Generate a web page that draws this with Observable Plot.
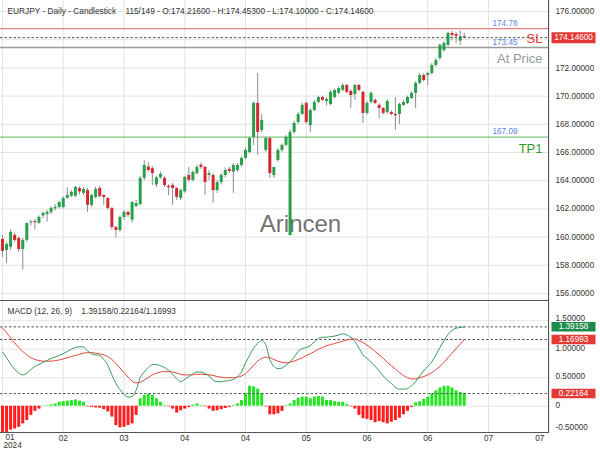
<!DOCTYPE html>
<html><head><meta charset="utf-8">
<script src="https://cdn.jsdelivr.net/npm/d3@7"></script>
<script src="https://cdn.jsdelivr.net/npm/@observablehq/plot@0.6"></script>
<style>
body{margin:0;background:#fff;}
#chart{width:600px;height:450px;position:relative;overflow:hidden;background:#fff;}
#chart svg{display:block;}
</style></head><body><div id="chart"></div>
<script>
// ---------- DATA ----------
const opens = [159.83,159.05,159.27,160.12,159.90,159.12,159.76,161.00,161.10,160.98,
161.50,161.60,161.75,162.00,162.10,162.10,162.75,162.90,162.90,163.45,
163.10,163.30,162.25,162.80,163.45,162.95,162.74,162.03,160.68,160.47,
161.39,161.75,161.20,162.17,162.30,164.16,164.96,164.85,163.70,164.20,
164.16,163.60,163.66,163.45,162.74,163.20,164.37,164.02,164.50,165.10,
164.94,164.37,164.37,163.30,163.87,164.37,164.80,164.60,164.72,165.08,
165.58,166.00,167.07,169.48,167.56,166.14,166.99,164.37,165.43,166.14,
166.50,160.10,167.42,168.13,168.70,169.48,167.90,168.98,169.55,169.90,
169.62,169.40,169.90,170.20,170.40,170.75,170.33,170.11,170.75,170.26,
168.77,169.55,169.70,169.34,169.12,168.84,168.84,168.70,168.70,169.34,
169.48,169.83,170.19,170.90,171.46,171.46,171.60,172.17,172.67,173.23,
173.60,174.44,174.37,173.90,174.216];
const highs = [160.10,159.62,160.50,160.30,160.00,159.90,161.00,161.20,161.25,161.50,
161.80,161.90,162.15,162.30,162.55,162.85,163.50,163.30,163.60,163.55,
163.50,163.45,163.05,163.55,163.60,163.00,162.80,162.10,160.75,161.50,
161.90,161.85,162.50,162.60,164.30,165.43,165.30,165.00,164.30,164.60,
164.30,163.70,163.80,163.50,163.40,164.30,164.94,164.70,165.10,165.25,
165.00,164.70,164.50,164.00,164.50,164.90,164.95,165.20,165.20,165.70,
166.30,167.10,169.60,171.60,168.70,167.10,167.10,164.90,166.30,166.60,
167.20,167.60,168.20,168.85,169.50,169.60,169.10,169.70,170.00,170.00,
169.90,170.40,170.50,170.65,170.90,170.85,170.45,170.85,170.85,170.35,
169.60,170.30,169.80,169.45,169.20,169.75,168.95,169.90,169.50,169.70,
170.00,170.30,171.00,171.60,171.60,171.70,172.30,172.65,173.70,173.85,
174.55,174.60,174.50,174.65,174.453];
const lows = [158.55,158.10,159.05,159.60,158.90,157.65,159.60,160.80,160.50,160.90,
161.30,161.05,161.60,161.85,162.00,162.00,162.70,162.80,162.80,163.00,
162.95,161.75,162.10,162.70,162.75,162.25,161.90,160.50,159.95,160.30,
161.20,161.40,161.00,162.10,162.20,164.00,164.60,163.66,163.50,164.10,
163.50,162.95,162.25,162.60,162.60,163.10,163.90,163.90,164.40,164.80,
162.95,164.00,162.40,163.10,163.70,164.20,164.50,163.10,164.60,164.95,
165.50,165.90,166.50,165.80,167.40,166.00,164.16,164.16,165.30,166.00,
166.40,160.10,167.30,168.00,168.60,168.00,167.40,168.90,169.45,169.60,
169.30,169.30,169.80,170.10,170.30,170.20,169.12,169.70,170.30,168.06,
168.65,169.45,169.40,168.40,168.65,168.70,168.60,167.56,168.00,169.25,
169.40,169.75,169.10,170.80,171.00,170.75,171.50,172.05,172.50,173.10,
173.50,173.90,173.70,173.60,174.10];
const closes = [158.98,159.48,160.33,159.76,159.12,159.76,160.96,161.07,161.02,161.40,
161.67,161.75,162.03,162.10,162.45,162.74,162.95,163.17,163.52,163.20,
163.38,162.25,162.95,163.38,162.88,162.80,162.03,160.68,160.47,161.39,
161.75,161.53,162.45,162.38,164.16,165.08,164.72,164.50,164.20,164.44,
163.66,163.50,163.45,162.81,163.30,164.23,164.02,164.58,164.94,164.94,
163.87,164.50,163.30,163.87,164.37,164.72,164.65,165.08,165.08,165.58,
166.14,166.99,169.48,167.42,168.27,166.99,164.50,164.94,166.14,166.50,
167.07,167.42,168.06,168.70,169.34,168.13,168.98,169.55,169.90,169.70,
169.76,170.26,170.40,170.54,170.75,170.26,170.04,170.75,170.40,168.77,
169.48,170.19,169.48,169.12,168.77,169.62,168.70,168.60,169.41,169.55,
169.90,170.19,170.90,171.46,171.10,171.60,172.17,172.53,173.60,173.73,
174.44,174.30,174.23,174.20,174.146];

const macdLine = [0.95,0.85,0.74,0.65,0.58,0.55,0.58,0.64,0.70,0.73,
0.77,0.80,0.84,0.86,0.89,0.92,0.96,1.00,1.03,1.04,
1.04,0.97,0.92,0.90,0.89,0.82,0.72,0.55,0.40,0.29,
0.21,0.16,0.17,0.28,0.50,0.60,0.68,0.73,0.73,0.71,
0.68,0.63,0.56,0.48,0.43,0.47,0.52,0.57,0.60,0.60,
0.57,0.53,0.46,0.43,0.43,0.44,0.45,0.47,0.52,0.60,
0.76,0.89,1.02,1.10,1.15,1.08,0.82,0.70,0.66,0.67,
0.72,0.78,0.86,0.96,1.01,1.03,1.06,1.13,1.19,1.21,
1.21,1.22,1.23,1.25,1.27,1.25,1.21,1.14,1.02,0.90,
0.84,0.77,0.70,0.62,0.53,0.46,0.40,0.33,0.30,0.30,
0.31,0.36,0.43,0.53,0.62,0.70,0.78,0.90,1.03,1.15,
1.26,1.33,1.37,1.38,1.39158];
const signalLine = [1.375,1.29,1.20,1.11,1.03,0.96,0.90,0.85,0.82,0.80,
0.79,0.79,0.79,0.80,0.81,0.83,0.85,0.87,0.89,0.91,
0.93,0.94,0.94,0.93,0.92,0.90,0.87,0.82,0.75,0.67,
0.59,0.51,0.44,0.41,0.42,0.46,0.50,0.55,0.58,0.60,
0.61,0.61,0.60,0.58,0.56,0.55,0.55,0.55,0.56,0.56,
0.56,0.55,0.54,0.52,0.51,0.50,0.50,0.50,0.51,0.53,
0.57,0.64,0.72,0.79,0.84,0.86,0.85,0.82,0.79,0.77,
0.76,0.77,0.79,0.82,0.85,0.89,0.92,0.96,1.00,1.03,
1.06,1.08,1.10,1.12,1.14,1.16,1.18,1.18,1.15,1.12,
1.07,1.02,0.96,0.90,0.84,0.77,0.71,0.65,0.59,0.54,
0.50,0.48,0.48,0.50,0.52,0.55,0.59,0.64,0.70,0.77,
0.85,0.93,1.01,1.09,1.16993];
const histogram = [-0.46,-0.46,-0.42,-0.40,-0.37,-0.31,-0.25,-0.16,-0.09,-0.05,
0.005,0.01,0.025,0.04,0.07,0.08,0.09,0.10,0.11,0.09,
0.07,-0.01,-0.02,-0.03,-0.035,-0.06,-0.10,-0.19,-0.34,-0.38,
-0.37,-0.34,-0.31,-0.16,0.13,0.19,0.21,0.19,0.13,0.07,
0.01,-0.01,-0.05,-0.12,-0.08,-0.05,-0.025,0.02,0.04,0.01,
-0.01,-0.05,-0.09,-0.08,-0.06,-0.04,-0.02,0.01,0.04,0.10,
0.22,0.35,0.34,0.30,0.22,-0.01,-0.15,-0.15,-0.135,-0.09,
0.01,0.04,0.10,0.14,0.16,0.16,0.13,0.16,0.17,0.16,
0.10,0.10,0.08,0.07,0.07,0.03,-0.01,-0.05,-0.16,-0.22,
-0.23,-0.25,-0.29,-0.27,-0.29,-0.31,-0.28,-0.25,-0.21,-0.15,
-0.09,-0.02,0.06,0.08,0.12,0.16,0.22,0.27,0.32,0.35,
0.35,0.32,0.27,0.24,0.22164];

const gridIdx = [0,15,30,45,60,75,90,105,120,135];
const tickLabels = ["01","02","03","04","04","05","06","06","07","07"];
const yearLabel = "2024";
const priceTicks = [156,158,160,162,164,166,168,170,172,174,176];
const priceTickLabels = [156,158,160,162,164,166,168,170,172,176]; // 174 is hidden under the price box
const macdTicks = [0,0.5,1,1.5];
const macdLowTick = -0.5;

const slLevel = 174.78, atPriceLevel = 173.45, tp1Level = 167.09, lastPrice = 174.146;
const levelValues = [slLevel, atPriceLevel, tp1Level];
const titleText = "EURJPY - Daily - Candlestick\u00a0\u00a0\u00a0 115/149 - O:174.21600 - H:174.45300 - L:174.10000 - C:174.14600";
const macdTitle = "MACD (12, 26, 9)\u00a0\u00a0\u00a0 1.39158/0.22164/1.16993";
const watermark = "Arincen";

// ---------- BUILD ----------
const FONT = "'Liberation Sans', Arial, sans-serif";
const GREEN = "#27a04c", RED = "#d8262e", WICK = "#8c8c8c";
const candles = opens.map((o, i) => ({i, open: o, high: highs[i], low: lows[i], close: closes[i]}));
const mdata = macdLine.map((m, i) => ({i, macd: m, signal: signalLine[i], hist: histogram[i]}));
const xDomain = [-0.494, 134.81];
const rectSymbol = (w, h) => ({draw(ctx) { ctx.rect(-w / 2, -h / 2, w, h); }});
const macdLast = macdLine[macdLine.length - 1];
const signalLast = signalLine[signalLine.length - 1];
const histLast = histogram[histogram.length - 1];

const price = Plot.plot({
  width: 600, height: 300, marginLeft: 0, marginRight: 52, marginTop: 0, marginBottom: 0,
  style: {background: "#fff", fontFamily: FONT, fontSize: "8.2px", color: "#333", overflow: "visible"},
  x: {domain: xDomain, axis: null},
  y: {domain: [155.5, 176.78], axis: null},
  marks: [
    Plot.ruleY(priceTicks, {stroke: "#e4e4e4"}),
    Plot.ruleX(gridIdx, {stroke: "#e4e4e4"}),
    Plot.text([watermark], {frameAnchor: "bottom", dx: 26, dy: -69, fontSize: 24, fill: "#606060", fillOpacity: 0.9}),
    Plot.ruleY([tp1Level], {stroke: "#62bb62"}),
    Plot.ruleY([slLevel], {stroke: "#ef8080", strokeWidth: 1.2}),
    Plot.ruleY([atPriceLevel], {stroke: "#9a9a9a", strokeWidth: 1.5}),
    Plot.ruleX(candles, {x: "i", y1: "low", y2: "high", stroke: WICK}),
    Plot.ruleX(candles, {x: "i", y1: "open", y2: "close", stroke: d => d.close >= d.open ? GREEN : RED, strokeWidth: 3}),
    Plot.ruleY([lastPrice], {stroke: "#555", strokeDasharray: "2.5,2"}),
    Plot.text(levelValues, {y: d => d, text: d => d.toFixed(2), frameAnchor: "right", textAnchor: "end", dx: -31, dy: -5.5, fill: "#5a84e0", fontSize: 8.2}),
    Plot.text(["SL"], {y: [slLevel], frameAnchor: "right", textAnchor: "end", dx: -6, dy: 10, fill: "#e53935", fontSize: 13}),
    Plot.text(["At Price"], {y: [atPriceLevel], frameAnchor: "right", textAnchor: "end", dx: -6, dy: 11, fill: "#999", fontSize: 13}),
    Plot.text(["TP1"], {y: [tp1Level], frameAnchor: "right", textAnchor: "end", dx: -6, dy: 12, fill: "#2ca02c", fontSize: 13}),
    Plot.text([titleText], {frameAnchor: "top-left", dx: 7, dy: 11, textAnchor: "start", lineAnchor: "middle", fill: "#333", fontSize: 8.3}),
    Plot.frame({anchor: "right", stroke: "#555"}),
    Plot.axisY({anchor: "right", ticks: priceTickLabels, tickFormat: d => d.toFixed(5), tickSize: 0, tickPadding: 7, label: null, fill: "#333", fontSize: 8.2}),
    Plot.dot([lastPrice], {y: d => d, frameAnchor: "right", dx: 25, symbol: rectSymbol(44, 11), r: 5, fill: "#e53935", stroke: "none"}),
    Plot.text([lastPrice], {y: d => d, text: d => d.toFixed(5), frameAnchor: "right", dx: 25, textAnchor: "middle", fill: "#fff", fontSize: 8.2})
  ]
});

const macd = Plot.plot({
  width: 600, height: 150, marginLeft: 0, marginRight: 52, marginTop: 0, marginBottom: 18,
  style: {background: "#fff", fontFamily: FONT, fontSize: "8.2px", color: "#333", overflow: "visible"},
  x: {domain: xDomain, axis: null},
  y: {domain: [-0.461, 1.854], axis: null},
  marks: [
    Plot.ruleY(macdTicks, {stroke: "#e4e4e4"}),
    Plot.ruleX(gridIdx, {stroke: "#e4e4e4"}),
    Plot.ruleX(mdata, {x: "i", y1: 0, y2: "hist", stroke: d => d.hist >= 0 ? "#22e622" : "#ff1c1c", strokeWidth: 3}),
    Plot.ruleY([macdLast, signalLast, histLast], {stroke: "#555", strokeDasharray: "2.5,2"}),
    Plot.line(mdata, {x: "i", y: "signal", stroke: "#e8453c", strokeWidth: 1, curve: "monotone-x"}),
    Plot.line(mdata, {x: "i", y: "macd", stroke: "#3a9a5c", strokeWidth: 1, curve: "monotone-x"}),
    Plot.frame({anchor: "top", stroke: "#555"}),
    Plot.frame({anchor: "bottom", stroke: "#555"}),
    Plot.frame({anchor: "right", stroke: "#555"}),
    Plot.axisY({anchor: "right", ticks: macdTicks.slice(0, 3), tickFormat: d => d === 0 ? "0" : d.toFixed(5), tickSize: 0, tickPadding: 7, dy: -1, label: null, fill: "#333", fontSize: 8.2}),
    Plot.text(macdTicks.slice(3), {y: d => d, text: d => d.toFixed(5), frameAnchor: "right", textAnchor: "start", dx: 7, dy: -2.5, fill: "#333", fontSize: 8.2}),
    Plot.text([macdLowTick], {y: d => d, text: d => d.toFixed(5), frameAnchor: "right", textAnchor: "start", dx: 7, dy: -7.5, fill: "#333", fontSize: 8.2}),
    Plot.dot([macdLast], {y: d => d, frameAnchor: "right", dx: 25, symbol: rectSymbol(44, 9.5), r: 5, fill: "#1e8a4c", stroke: "none"}),
    Plot.dot([signalLast, histLast], {y: d => d, frameAnchor: "right", dx: 25, symbol: rectSymbol(44, 9.5), r: 5, fill: "#e53935", stroke: "none"}),
    Plot.text([macdLast, signalLast, histLast], {y: d => d, text: d => d.toFixed(5), frameAnchor: "right", dx: 25, textAnchor: "middle", fill: "#fff", fontSize: 8.2}),
    Plot.text([macdTitle], {frameAnchor: "top-left", dx: 7, dy: 11, textAnchor: "start", lineAnchor: "middle", fill: "#333", fontSize: 8.3}),
    Plot.text(gridIdx.slice(1, -1), {x: d => d, text: (d, k) => tickLabels[k + 1], frameAnchor: "bottom", dy: 6, lineAnchor: "middle", fill: "#333", fontSize: 8.2}),
    Plot.text(gridIdx.slice(0, 1), {x: d => d, text: tickLabels.slice(0, 1), frameAnchor: "bottom", dx: 3, dy: 5, textAnchor: "start", lineAnchor: "middle", fill: "#333", fontSize: 8.2}),
    Plot.text([yearLabel], {x: gridIdx.slice(0, 1), frameAnchor: "bottom", dx: 1, dy: 12.8, textAnchor: "start", lineAnchor: "middle", fill: "#333", fontSize: 8.2}),
    Plot.text(gridIdx.slice(-1), {x: d => d, text: tickLabels.slice(-1), frameAnchor: "bottom", dx: -5, dy: 6, textAnchor: "end", lineAnchor: "middle", fill: "#333", fontSize: 8.2})
  ]
});

const root = document.getElementById("chart");
root.appendChild(price);
root.appendChild(macd);
</script></body></html>
